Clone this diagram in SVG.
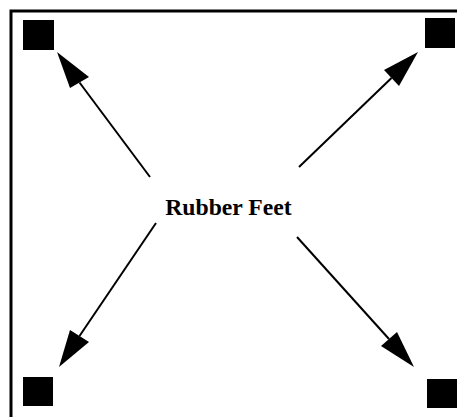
<svg xmlns="http://www.w3.org/2000/svg" width="457" height="417" viewBox="0 0 457 417">
<style>
.foot{fill:#000}
.conn{stroke:#000;stroke-width:2;fill:none}
.head{fill:#000}
.lbl{font-family:"Liberation Serif","Times New Roman",serif;font-weight:bold;font-size:23.7px;fill:#000}
</style>
<rect x="0" y="0" width="457" height="417" fill="#fff"/>
<path d="M11,417 V11 H457" fill="none" stroke="#000" stroke-width="3" stroke-linejoin="miter"/>
<g id="foot-tl"><rect class="foot" x="23" y="20" width="31" height="30"/></g>
<g id="foot-tr"><rect class="foot" x="425" y="18" width="30" height="30"/></g>
<g id="foot-bl"><rect class="foot" x="23" y="377" width="30" height="29"/></g>
<g id="foot-br"><rect class="foot" x="427" y="379" width="30" height="29"/></g>
<g id="label"><text class="lbl" x="228.5" y="215" text-anchor="middle">Rubber Feet</text></g>
<g id="connectors">
<line class="conn" x1="150" y1="177" x2="79.5" y2="82.5"/>
<polygon class="head" points="57,52 70,88 89,77"/>
<line class="conn" x1="299" y1="167" x2="391.5" y2="78"/>
<polygon class="head" points="418,52 384,70 399,86"/>
<line class="conn" x1="156" y1="223" x2="79.5" y2="336"/>
<polygon class="head" points="59,367 70,330 89,342"/>
<line class="conn" x1="297" y1="237" x2="389" y2="339"/>
<polygon class="head" points="414,367 381,346 397,332"/>
</g>
</svg>
